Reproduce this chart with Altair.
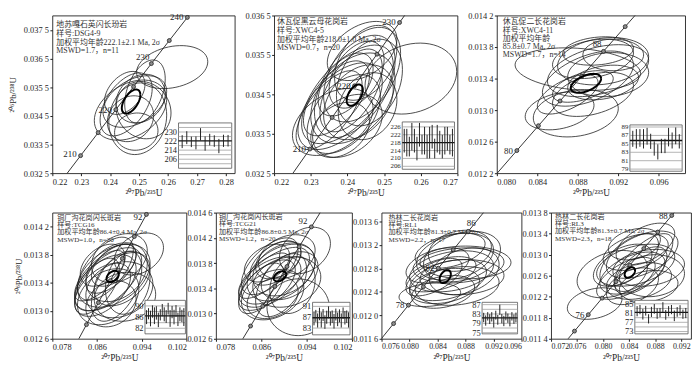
import numpy as np
import pandas as pd
import altair as alt

FONT = "Liberation Serif, Noto Sans CJK SC, serif"
INK = "#1e1e1e"
LBL = "substring(format(datum.value,'.4f'),0,5)+' '+substring(format(datum.value,'.4f'),5,6)"

# ---- concordia reference points (age in Ma, 207Pb/235U, 206Pb/238U) ----
AGES_TOP = [200, 205, 210, 215, 220, 225, 230, 235, 240, 245]
PB207_TOP = [0.21771, 0.22372, 0.22976, 0.23583, 0.24193, 0.24806, 0.25422, 0.26041, 0.26664, 0.27289]
PB206_TOP = [0.031511, 0.032312, 0.033113, 0.033914, 0.034716, 0.035519, 0.036323, 0.037127, 0.037932, 0.038737]
AGES_BOT = [70, 72, 74, 76, 78, 80, 82, 84, 86, 88, 90, 92, 94, 96, 98, 100]
PB207_BOT = [0.071371, 0.073484, 0.075600, 0.077721, 0.079846, 0.081975, 0.084108, 0.086246,
             0.088387, 0.090533, 0.092683, 0.094838, 0.096996, 0.099159, 0.101326, 0.103497]
PB206_BOT = [0.010918, 0.011232, 0.011546, 0.011859, 0.012173, 0.012487, 0.012802, 0.013116,
             0.013430, 0.013745, 0.014059, 0.014374, 0.014689, 0.015004, 0.015319, 0.015633]

# ---- error ellipses: (x centre, y centre, x half-width, y half-height, correlation) ----
ELL_DSG49 = [(0.2614, 0.03620, 0.0123, 0.00075, 0.25), (0.2470, 0.03470, 0.0125, 0.00105, 0.35),
             (0.2495, 0.03440, 0.0100, 0.00125, 0.10), (0.2485, 0.03500, 0.0110, 0.00090, 0.40),
             (0.2455, 0.03490, 0.0090, 0.00110, 0.50), (0.2505, 0.03510, 0.0085, 0.00085, 0.20),
             (0.2470, 0.03440, 0.0080, 0.00080, 0.15), (0.2515, 0.03470, 0.0095, 0.00100, -0.10),
             (0.2450, 0.03530, 0.0070, 0.00075, 0.40), (0.2490, 0.03395, 0.0075, 0.00065, 0.05),
             (0.2520, 0.03535, 0.0070, 0.00110, 0.40)]
MEAN_DSG49 = (0.2472, 0.03500, 0.0032, 0.00042, 0.55)

ELL_XWC45 = [(0.2573, 0.03490, 0.0125, 0.00090, 0.20), (0.2400, 0.03450, 0.0125, 0.00125, 0.60),
             (0.2380, 0.03420, 0.0115, 0.00110, 0.55), (0.2420, 0.03470, 0.0110, 0.00130, 0.50),
             (0.2440, 0.03500, 0.0105, 0.00120, 0.45), (0.2390, 0.03400, 0.0100, 0.00100, 0.45),
             (0.2430, 0.03430, 0.0095, 0.00095, 0.35), (0.2450, 0.03530, 0.0085, 0.00095, 0.40),
             (0.2360, 0.03380, 0.0110, 0.00085, 0.40), (0.2410, 0.03460, 0.0085, 0.00105, 0.55),
             (0.2460, 0.03480, 0.0090, 0.00110, 0.30), (0.2370, 0.03440, 0.0090, 0.00095, 0.60),
             (0.2400, 0.03370, 0.0095, 0.00080, 0.35), (0.2440, 0.03560, 0.0095, 0.00075, 0.40),
             (0.2350, 0.03410, 0.0090, 0.00100, 0.65), (0.2425, 0.03500, 0.0075, 0.00085, 0.45),
             (0.2395, 0.03475, 0.0075, 0.00080, 0.50), (0.2455, 0.03420, 0.0080, 0.00085, 0.20),
             (0.2380, 0.03360, 0.0080, 0.00070, 0.30), (0.2415, 0.03440, 0.0115, 0.00115, 0.40)]
MEAN_XWC45 = (0.2420, 0.03448, 0.0022, 0.00027, 0.50)

ELL_XWC411 = [(0.0880, 0.01352, 0.0062, 0.00027, -0.20), (0.0905, 0.01362, 0.0045, 0.00030, 0.20),
              (0.0900, 0.01350, 0.0050, 0.00033, 0.40), (0.0895, 0.01365, 0.0040, 0.00025, 0.30),
              (0.0910, 0.01345, 0.0040, 0.00028, 0.10), (0.0890, 0.01340, 0.0045, 0.00035, 0.50),
              (0.0915, 0.01370, 0.0030, 0.00020, 0.00), (0.0862, 0.01299, 0.0034, 0.00024, 0.30),
              (0.0878, 0.01296, 0.0042, 0.00030, 0.20), (0.0895, 0.01320, 0.0040, 0.00028, 0.40),
              (0.0905, 0.01335, 0.0035, 0.00022, 0.30), (0.0885, 0.01330, 0.0030, 0.00020, 0.50),
              (0.0900, 0.01375, 0.0035, 0.00018, 0.20), (0.0870, 0.01320, 0.0030, 0.00025, 0.60)]
MEAN_XWC411 = (0.0888, 0.01334, 0.0015, 0.00012, 0.50)

ELL_TCG16 = [(0.0935, 0.01381, 0.0044, 0.00030, 0.3), (0.0880, 0.01345, 0.0060, 0.00045, 0.6),
             (0.0875, 0.01340, 0.0055, 0.00040, 0.5), (0.0890, 0.01350, 0.0065, 0.00045, 0.4),
             (0.0870, 0.01330, 0.0050, 0.00038, 0.5), (0.0895, 0.01355, 0.0055, 0.00042, 0.3),
             (0.0885, 0.01360, 0.0045, 0.00035, 0.6), (0.0900, 0.01330, 0.0060, 0.00040, 0.2),
             (0.0865, 0.01350, 0.0045, 0.00036, 0.7), (0.0905, 0.01345, 0.0050, 0.00038, 0.4),
             (0.0880, 0.01320, 0.0055, 0.00040, 0.3), (0.0910, 0.01320, 0.0055, 0.00035, 0.1),
             (0.0890, 0.01365, 0.0040, 0.00030, 0.5), (0.0875, 0.01360, 0.0050, 0.00045, 0.6),
             (0.0895, 0.01335, 0.0045, 0.00050, 0.5), (0.0885, 0.01310, 0.0045, 0.00033, 0.2),
             (0.0870, 0.01365, 0.0040, 0.00030, 0.4), (0.0900, 0.01375, 0.0050, 0.00035, 0.3),
             (0.0860, 0.01335, 0.0040, 0.00040, 0.6), (0.0915, 0.01340, 0.0040, 0.00045, 0.2)]
MEAN_TCG16 = (0.0888, 0.01349, 0.0011, 0.00008, 0.4)

ELL_TCG21 = [(0.0937, 0.01400, 0.0045, 0.00037, 0.3), (0.0925, 0.01310, 0.0055, 0.00045, 0.0),
             (0.0885, 0.01360, 0.0060, 0.00045, 0.6), (0.0875, 0.01350, 0.0055, 0.00040, 0.5),
             (0.0895, 0.01365, 0.0060, 0.00045, 0.4), (0.0870, 0.01345, 0.0050, 0.00040, 0.6),
             (0.0900, 0.01370, 0.0055, 0.00042, 0.3), (0.0885, 0.01380, 0.0045, 0.00035, 0.5),
             (0.0905, 0.01350, 0.0060, 0.00040, 0.2), (0.0865, 0.01360, 0.0045, 0.00036, 0.7),
             (0.0910, 0.01360, 0.0050, 0.00038, 0.4), (0.0880, 0.01330, 0.0055, 0.00040, 0.3),
             (0.0890, 0.01385, 0.0040, 0.00030, 0.4), (0.0875, 0.01375, 0.0050, 0.00045, 0.6),
             (0.0895, 0.01345, 0.0045, 0.00050, 0.5), (0.0880, 0.01325, 0.0045, 0.00033, 0.3),
             (0.0870, 0.01380, 0.0040, 0.00030, 0.4), (0.0905, 0.01390, 0.0050, 0.00035, 0.3),
             (0.0860, 0.01340, 0.0040, 0.00040, 0.6), (0.0915, 0.01345, 0.0040, 0.00045, 0.2)]
MEAN_TCG21 = (0.0893, 0.01359, 0.0011, 0.00008, 0.4)

ELL_RL1 = [(0.0829, 0.01235, 0.0044, 0.00020, 0.2), (0.0860, 0.01275, 0.0060, 0.00035, 0.3),
           (0.0870, 0.01285, 0.0065, 0.00030, 0.2), (0.0855, 0.01260, 0.0055, 0.00035, 0.4),
           (0.0875, 0.01265, 0.0060, 0.00030, 0.1), (0.0845, 0.01270, 0.0050, 0.00030, 0.5),
           (0.0865, 0.01300, 0.0055, 0.00040, 0.3), (0.0880, 0.01290, 0.0065, 0.00028, 0.0),
           (0.0850, 0.01250, 0.0050, 0.00030, 0.3), (0.0868, 0.01250, 0.0060, 0.00033, 0.2),
           (0.0840, 0.01285, 0.0045, 0.00030, 0.4), (0.0858, 0.01310, 0.0050, 0.00030, 0.4),
           (0.0878, 0.01275, 0.0050, 0.00040, 0.3), (0.0848, 0.01240, 0.0045, 0.00028, 0.3),
           (0.0872, 0.01310, 0.0045, 0.00035, 0.2), (0.0875, 0.01300, 0.0055, 0.00043, 0.3),
           (0.0835, 0.01265, 0.0040, 0.00032, 0.6)]
MEAN_RL1 = (0.0851, 0.01266, 0.0008, 0.00011, 0.4)

ELL_RL3 = [(0.0787, 0.01207, 0.0042, 0.00030, 0.3), (0.0814, 0.01263, 0.0054, 0.00045, 0.3),
           (0.0850, 0.01280, 0.0060, 0.00040, 0.4), (0.0860, 0.01300, 0.0055, 0.00045, 0.5),
           (0.0845, 0.01265, 0.0050, 0.00040, 0.5), (0.0870, 0.01275, 0.0055, 0.00035, 0.2),
           (0.0840, 0.01290, 0.0045, 0.00050, 0.6), (0.0855, 0.01250, 0.0050, 0.00035, 0.3),
           (0.0865, 0.01320, 0.0045, 0.00040, 0.5), (0.0835, 0.01255, 0.0045, 0.00040, 0.6),
           (0.0850, 0.01305, 0.0050, 0.00035, 0.4), (0.0875, 0.01260, 0.0050, 0.00040, 0.1),
           (0.0845, 0.01240, 0.0040, 0.00035, 0.4), (0.0858, 0.01270, 0.0040, 0.00045, 0.6),
           (0.0830, 0.01280, 0.0045, 0.00040, 0.5), (0.0862, 0.01285, 0.0045, 0.00055, 0.7),
           (0.0848, 0.01320, 0.0040, 0.00030, 0.3), (0.0870, 0.01240, 0.0045, 0.00030, 0.2)]
MEAN_RL3 = (0.0841, 0.01266, 0.0008, 0.00010, 0.4)

# ---- weighted-mean insets: spot ages (Ma) and 2-sigma half errors ----
AGE_DSG49 = [221.5, 225.0, 221.3, 220.4, 228.0, 219.8, 223.3, 222.0, 217.6, 222.2, 222.3]
ERR_DSG49 = [5.7, 5.7, 4.6, 5.7, 5.4, 6.3, 5.1, 5.1, 6.3, 5.4, 5.1]
AGE_XWC45 = [219, 218, 216, 221, 219, 215, 222, 217, 219, 216, 218, 221, 215, 220, 218, 216, 219, 220, 217, 218]
ERR_XWC45 = [6, 7, 5, 7, 6, 6, 6, 5, 7, 6, 8, 6, 5, 7, 6, 6, 7, 6, 5, 7]
AGE_XWC411 = [86.2, 86.2, 86.4, 86.2, 86.8, 85.6, 83.9, 83.1, 84.5, 84.5, 86.6, 85.8, 86.9, 85.6]
ERR_XWC411 = [1.9, 2.3, 2.1, 2.3, 2.0, 1.8, 1.7, 1.8, 1.7, 1.7, 2.2, 1.9, 2.0, 1.7]
AGE_TCG16 = [86.0, 87.2, 85.5, 88.0, 86.5, 87.5, 85.0, 86.8, 88.5, 87.0, 86.2, 89.0, 85.5, 87.8, 86.0, 88.2, 85.2, 87.0, 86.4, 86.0]
ERR_TCG16 = [2.5, 2.0, 2.8, 2.2, 3.0, 2.4, 2.6, 2.0, 2.2, 2.5, 2.3, 2.1, 3.0, 2.2, 2.6, 2.1, 2.4, 2.5, 2.2, 3.2]
AGE_TCG21 = [86.5, 87.5, 85.8, 88.2, 86.0, 87.8, 85.2, 87.0, 88.8, 86.5, 87.2, 85.5, 88.0, 86.2, 87.5, 85.8, 88.5, 86.8, 87.2, 86.0]
ERR_TCG21 = [2.5, 2.2, 2.6, 2.3, 2.8, 2.2, 2.5, 2.4, 2.2, 2.6, 2.3, 2.7, 2.2, 2.5, 2.4, 2.6, 2.1, 2.5, 2.3, 2.8]
AGE_RL1 = [81.5, 80.2, 82.0, 80.8, 81.8, 79.5, 82.5, 80.5, 84.8, 81.0, 80.0, 82.2, 81.2, 79.8, 82.0, 80.8, 81.5]
ERR_RL1 = [2.0, 2.2, 1.8, 2.1, 2.0, 2.3, 1.9, 2.1, 2.2, 2.0, 2.2, 1.9, 2.0, 2.1, 1.8, 2.0, 2.1]
AGE_RL3 = [81.8, 82.5, 80.5, 82.0, 78.5, 81.5, 82.8, 80.8, 81.2, 83.5, 80.2, 81.8, 82.5, 79.8, 81.5, 82.2, 80.5, 81.0]
ERR_RL3 = [2.2, 2.0, 2.3, 2.1, 2.0, 2.2, 2.1, 2.3, 2.0, 2.2, 2.1, 2.2, 2.0, 2.3, 2.1, 2.2, 2.0, 2.2]

# concordia age labels: (age, dx, dy, align)
PANELS = [
    dict(w=185, h=160, xdom=[0.22, 0.283], ydom=[0.0325, 0.0380], xfmt=".2f", xfs=8.5,
         xticks=[0.22, 0.23, 0.24, 0.25, 0.26, 0.27, 0.28],
         yticks=[0.0325, 0.0335, 0.0345, 0.0355, 0.0365, 0.0375], ytitle=True, tpad=6,
         ell=ELL_DSG49, mean=MEAN_DSG49, marks=[210, 215, 220, 225, 230, 235, 240],
         labs=[(210, -4, -2, "right"), (220, -4, 0, "right"), (230, -2, -7, "right"), (240, -4, 0, "right")],
         text=["地苏嘎石英闪长玢岩", "样号:DSG4-9", "加权平均年龄222.1±2.1 Ma, 2σ", "MSWD=1.7，n=11"],
         tx=4, ty=[10, 18.5, 27.5, 36], fs=8,
         box=(128, 182, 109, 155), idom=[198, 238], ilab=[206, 214, 222, 230], ifs=8.5,
         igrid=[202, 206, 210, 214, 218, 226, 230, 234], imean=222.1, iage=AGE_DSG49, ierr=ERR_DSG49),
    dict(w=186, h=160, xdom=[0.22, 0.27], ydom=[0.0325, 0.0365], xfmt=".2f", xfs=8.5,
         xticks=[0.22, 0.23, 0.24, 0.25, 0.26, 0.27],
         yticks=[0.0325, 0.0335, 0.0345, 0.0355, 0.0365], ytitle=False, tpad=0,
         ell=ELL_XWC45, mean=MEAN_XWC45, marks=[210, 215, 220, 225, 230],
         labs=[(210, -4, 0, "right"), (220, -4, 0, "right"), (230, -4, 0, "right")],
         text=["休瓦促黑云母花岗岩", "样号:XWC4-5", "加权平均年龄218.0±1.0 Ma, 2σ", "MSWD=0.7，n=20"],
         tx=3, ty=[7, 15.5, 24.5, 33], fs=8,
         box=(130, 183, 108, 156), idom=[204.5, 228.5], ilab=[206, 210, 214, 218, 222, 226], ifs=7,
         igrid=[206, 210, 214, 222, 226], imean=218.0, iage=AGE_XWC45, ierr=ERR_XWC45),
    dict(w=191, h=160, xdom=[0.080, 0.0986], ydom=[0.0122, 0.0142], xfmt=".3f", xfs=8.5,
         xticks=[0.080, 0.084, 0.088, 0.092, 0.096],
         yticks=[0.0122, 0.0126, 0.0130, 0.0134, 0.0138, 0.0142], ytitle=False, tpad=0,
         ell=ELL_XWC411, mean=MEAN_XWC411, marks=[80, 82, 84, 86, 88, 90],
         labs=[(80, -4, 0, "right"), (88, -2, -7, "right")],
         text=["休瓦促二长花岗岩", "样号:XWC4-11", "加权平均年龄", "85.8±0.7 Ma, 2σ", "MSWD=1.7，n=14"],
         tx=6, ty=[7, 15.5, 24, 32, 40], fs=8,
         box=(135, 188, 111, 158), idom=[78.5, 89.5], ilab=[79, 81, 83, 85, 87, 89], ifs=7,
         igrid=[79, 81, 83, 85, 87, 89], imean=85.8, iage=AGE_XWC411, ierr=ERR_XWC411),
    dict(w=136, h=128, xdom=[0.078, 0.102], ydom=[0.0126, 0.0144], xfmt=".3f", xfs=8.5,
         xticks=[0.078, 0.086, 0.094, 0.102],
         yticks=[0.0126, 0.0130, 0.0134, 0.0138, 0.0142], ytitle=True, tpad=0,
         ell=ELL_TCG16, mean=MEAN_TCG16, marks=[82, 84, 86, 88, 90, 92],
         labs=[(92, -4, 3, "right")],
         text=["铜厂沟花岗闪长斑岩", "样号:TCG16", "加权平均年龄86.4±0.4 Ma, 2σ", "MSWD=1.0，n=20"],
         tx=5, ty=[5, 12.5, 20, 27.5], fs=7.2,
         box=(94, 135, 89, 123), idom=[80, 92], ilab=[82, 86, 90], ifs=8.5,
         igrid=[82, 84, 88, 90], imean=86.4, iage=AGE_TCG16, ierr=ERR_TCG16),
    dict(w=138, h=128, xdom=[0.078, 0.102], ydom=[0.0126, 0.0146], xfmt=".3f", xfs=8.5,
         xticks=[0.078, 0.086, 0.094, 0.102],
         yticks=[0.0126, 0.0130, 0.0134, 0.0138, 0.0142, 0.0146], ytitle=False, tpad=0,
         ell=ELL_TCG21, mean=MEAN_TCG21, marks=[82, 84, 86, 88, 90, 92],
         labs=[(92, -4, -6, "right")],
         text=["铜厂沟花岗闪长斑岩", "样号:TCG21", "加权平均年龄86.8±0.5 Ma, 2σ", "MSWD=1.2，n=20"],
         tx=3, ty=[4.5, 12, 19.5, 27], fs=7.2,
         box=(98, 136, 91, 124), idom=[80.5, 92.5], ilab=[83, 87, 91], ifs=8.5,
         igrid=[83, 85, 89, 91], imean=86.8, iage=AGE_TCG21, ierr=ERR_TCG21),
    dict(w=142, h=128, xdom=[0.076, 0.096], ydom=[0.0116, 0.01375], xfmt=".3f", xfs=8,
         xticks=[0.076, 0.080, 0.084, 0.088, 0.092, 0.096],
         yticks=[0.0116, 0.0120, 0.0124, 0.0128, 0.0132, 0.0136], ytitle=False, tpad=0,
         ell=ELL_RL1, mean=MEAN_RL1, marks=[76, 78, 80, 82, 84, 86],
         labs=[(78, -4, 0, "right"), (82, -4, 0, "right"), (86, 3, -8, "center")],
         text=["热林二长花岗岩", "样号:RL1", "加权平均年龄81.3±0.7 Ma, 2σ", "MSWD=2.2，n=17"],
         tx=7, ty=[5, 12.5, 20, 27.5], fs=7.2,
         box=(102, 138, 91, 123), idom=[74.5, 88], ilab=[75, 79, 83, 87], ifs=8.5,
         igrid=[75, 77, 79, 83, 85, 87], imean=81.3, iage=AGE_RL1, ierr=ERR_RL1),
    dict(w=142, h=128, xdom=[0.072, 0.0935], ydom=[0.0114, 0.0138], xfmt=".3f", xfs=8,
         xticks=[0.072, 0.076, 0.080, 0.084, 0.088, 0.092],
         yticks=[0.0114, 0.0118, 0.0122, 0.0126, 0.0130, 0.0134, 0.0138], ytitle=False, tpad=0,
         ell=ELL_RL3, mean=MEAN_RL3, marks=[74, 76, 78, 80, 82, 84, 86, 88],
         labs=[(76, -4, 0, "right"), (88, -4, 1, "right")],
         text=["热林二长花岗岩", "样号:RL3", "加权平均年龄81.3±0.7 Ma, 2σ", "MSWD=2.3，n=18"],
         tx=4, ty=[4, 11.5, 19, 26.5], fs=7.2,
         box=(85, 139, 89, 123), idom=[72, 86.5], ilab=[73, 77, 81, 85], ifs=8.5,
         igrid=[73, 75, 77, 79, 83, 85], imean=81.3, iage=AGE_RL3, ierr=ERR_RL3),
]


def ellipse_df(ells, npts=61):
    t = np.linspace(0, 2 * np.pi, npts)
    frames = []
    for i, (cx, cy, rx, ry, rho) in enumerate(ells):
        xs = cx + rx * np.cos(t)
        ys = cy + ry * (rho * np.cos(t) + np.sqrt(1 - rho ** 2) * np.sin(t))
        frames.append(pd.DataFrame({"id": i, "k": np.arange(npts), "x": xs, "y": ys}))
    return pd.concat(frames, ignore_index=True)


def panel(p):
    if p["xdom"][0] > 0.2:
        ages, r7, r6 = AGES_TOP, PB207_TOP, PB206_TOP
    else:
        ages, r7, r6 = AGES_BOT, PB207_BOT, PB206_BOT
    conc = pd.DataFrame({"k": range(len(ages)), "x": r7, "y": r6, "age": ages})
    mk = conc[conc["age"].isin(p["marks"])]

    X = alt.X("x:Q", scale=alt.Scale(domain=p["xdom"], nice=False, zero=False),
              axis=alt.Axis(values=p["xticks"], format=p["xfmt"], title="²⁰⁷Pb/²³⁵U",
                            labelOverlap=False, labelFontSize=p["xfs"]))
    if p["ytitle"]:
        yax = alt.Axis(values=p["yticks"], labelExpr=LBL, title="²⁰⁶Pb/²³⁸U", labelOverlap=False,
                       titlePadding=p["tpad"], titleFontSize=9)
    else:
        yax = alt.Axis(values=p["yticks"], labelExpr=LBL, title=None, labelOverlap=False)
    Y = alt.Y("y:Q", scale=alt.Scale(domain=p["ydom"], nice=False, zero=False), axis=yax)

    ell = alt.Chart(ellipse_df(p["ell"])).mark_line(clip=True, color=INK, strokeWidth=0.8).encode(
        X, Y, detail="id:N", order="k:Q")
    cline = alt.Chart(conc).mark_line(clip=True, color=INK, strokeWidth=0.9).encode(X, Y, order="k:Q")
    pts = alt.Chart(mk).mark_point(shape="circle", filled=True, size=16, fill="#8c8c8c",
                                   stroke=INK, strokeWidth=0.8, opacity=1).encode(X, Y)
    mean = alt.Chart(ellipse_df([p["mean"]])).mark_line(clip=True, color="#000", strokeWidth=2).encode(
        X, Y, detail="id:N", order="k:Q")
    labs = []
    for age, dx, dy, al in p["labs"]:
        row = conc[conc["age"] == age].assign(t=str(age))
        labs.append(alt.Chart(row).mark_text(align=al, baseline="middle", dx=dx, dy=dy, fontSize=9,
                                             color=INK).encode(X, Y, text="t:N"))
    texts = []
    for line, yy in zip(p["text"], p["ty"]):
        texts.append(alt.Chart(pd.DataFrame({"t": [line]})).mark_text(
            align="left", baseline="middle", fontSize=p["fs"], color="#333").encode(
            x=alt.value(p["tx"]), y=alt.value(yy), text="t:N"))
    main = alt.layer(ell, cline, pts, mean, *labs, *texts)

    # inset
    x0, x1, y0, y1 = p["box"]
    n = len(p["iage"])
    xd = [0.2, n + 0.8]
    IX = alt.X("ix:Q", scale=alt.Scale(domain=xd, range=[x0, x1], nice=False, zero=False), axis=None)
    IY = alt.Y("iy:Q", scale=alt.Scale(domain=p["idom"], range=[y1, y0], nice=False, zero=False), axis=None)
    fr = pd.DataFrame({"ix": [xd[0]], "ix2": [xd[1]], "iy": [p["idom"][0]], "iy2": [p["idom"][1]]})
    frame = alt.Chart(fr).mark_rect(fill="white", stroke="#555", strokeWidth=0.8).encode(
        IX, x2="ix2:Q", y=IY, y2="iy2:Q")
    gd = pd.DataFrame({"iy": p["igrid"], "ix": xd[0], "ix2": xd[1]})
    grid = alt.Chart(gd).mark_rule(color="#a0a0a0", strokeWidth=0.8).encode(IX, x2="ix2:Q", y=IY)
    md = pd.DataFrame({"iy": [p["imean"]], "ix": [xd[0]], "ix2": [xd[1]]})
    mline = alt.Chart(md).mark_rule(color="#111", strokeWidth=1.3).encode(IX, x2="ix2:Q", y=IY)
    bd = pd.DataFrame({"ix": np.arange(1, n + 1),
                       "iy": np.array(p["iage"]) - np.array(p["ierr"]),
                       "iy2": np.array(p["iage"]) + np.array(p["ierr"])})
    bars = alt.Chart(bd).mark_rule(color="#222", strokeWidth=1).encode(IX, y=IY, y2="iy2:Q")
    ld = pd.DataFrame({"iy": p["ilab"], "ix": xd[0], "t": [str(v) for v in p["ilab"]]})
    ilabs = alt.Chart(ld).mark_text(align="right", baseline="middle", dx=-1.5, fontSize=p["ifs"],
                                    color=INK).encode(IX, y=IY, text="t:N")
    inset = alt.layer(frame, grid, mline, bars, ilabs)

    return alt.layer(main, inset).resolve_scale(x="independent", y="independent").properties(
        width=p["w"], height=p["h"])


P = [panel(p) for p in PANELS]
top = alt.hconcat(P[0], P[1], P[2], spacing=40, bounds="flush")
bottom = alt.hconcat(P[3], P[4], P[5], P[6], spacing=30, bounds="flush")

chart = alt.vconcat(top, bottom, spacing=10).properties(
    padding={"left": 0, "top": 0, "right": 0, "bottom": 0}
).configure_view(stroke=INK, strokeWidth=0.9).configure_axis(
    labelFont=FONT, labelFontSize=8.5, labelColor=INK, titleFont=FONT, titleFontSize=9.5,
    titleFontWeight="normal", titleColor=INK, tickColor=INK, tickSize=2.5, domain=False,
    grid=False, labelPadding=1.5, titlePadding=2
).configure_text(font=FONT)

chart.save("out.html", embed_options={"renderer": "svg", "actions": False})
